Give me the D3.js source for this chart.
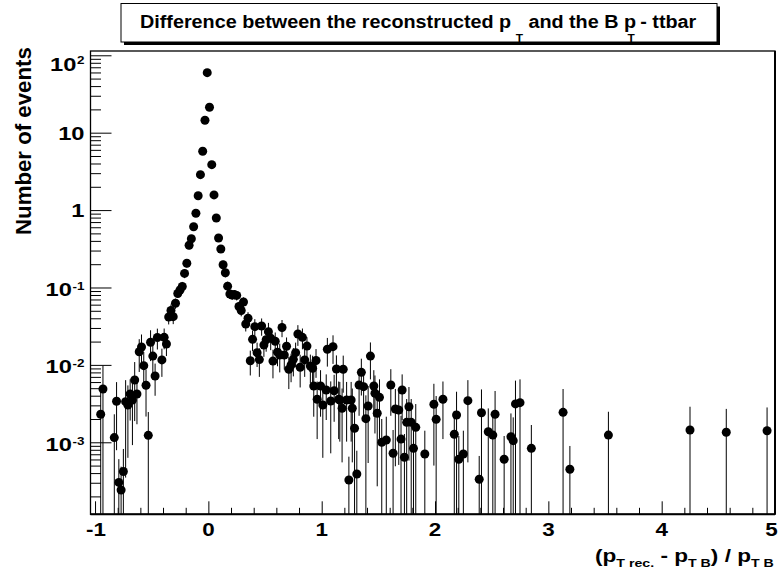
<!DOCTYPE html>
<html><head><meta charset="utf-8">
<script src="https://cdn.jsdelivr.net/npm/d3@7"></script>
<style>
body{margin:0;background:#fff}
text{font-family:"Liberation Sans",Arial,sans-serif;font-weight:bold;white-space:pre;fill:#000}
</style>
</head><body>
<svg id="c" width="779" height="571"></svg>
<script>
// ---- data ----
const binCenters = [
-0.95,-0.93,-0.83,-0.81,-0.79,-0.77,-0.75,-0.73,-0.71,-0.69,-0.67,-0.65,-0.63,-0.61,-0.59,-0.57,-0.55,-0.53,-0.51,-0.49,
-0.47,-0.45,-0.41,-0.39,-0.37,-0.35,-0.33,-0.31,-0.29,-0.27,-0.25,-0.23,-0.21,-0.19,-0.17,-0.15,-0.13,-0.11,-0.09,-0.07,
-0.05,-0.03,-0.01,0.01,0.03,0.05,0.07,0.09,0.11,0.13,0.15,0.17,0.19,0.21,0.23,0.25,0.27,0.29,0.31,0.33,
0.35,0.37,0.39,0.41,0.43,0.45,0.47,0.49,0.51,0.53,0.55,0.57,0.59,0.61,0.63,0.65,0.67,0.69,0.71,0.73,
0.75,0.77,0.79,0.81,0.83,0.85,0.87,0.90,0.92,0.93,0.95,0.96,0.99,1.01,1.04,1.05,1.08,1.10,1.11,1.13,
1.15,1.16,1.18,1.19,1.22,1.24,1.26,1.27,1.29,1.31,1.33,1.35,1.37,1.39,1.41,1.43,1.46,1.47,1.49,1.51,
1.53,1.57,1.61,1.63,1.65,1.68,1.70,1.71,1.73,1.75,1.77,1.79,1.81,1.83,1.91,1.99,2.01,2.07,2.17,2.19,
2.21,2.25,2.29,2.39,2.41,2.47,2.51,2.53,2.61,2.67,2.69,2.71,2.75,2.85,3.13,3.19,3.53,4.25,4.57,4.93];
const binValues = [
2.30e-3,4.88e-3,1.15e-3,3.39e-3,3.03e-4,2.42e-4,4.20e-4,3.35e-3,3.03e-3,4.21e-3,3.52e-3,6.38e-3,4.21e-3,1.48e-2,1.70e-2,9.77e-3,5.45e-3,1.23e-3,1.96e-2,1.30e-2,
7.19e-3,2.26e-2,1.16e-2,2.27e-2,1.86e-2,4.16e-2,5.04e-2,4.20e-2,6.25e-2,8.36e-2,9.29e-2,0.103,0.152,0.206,0.351,0.427,0.61,0.91,1.53,2.87,
5.75,14.5,59.6,21.3,3.86,1.57,0.79,0.436,0.314,0.197,0.155,0.104,8.24e-2,8.00e-2,8.10e-2,7.90e-2,5.69e-2,5.04e-2,6.50e-2,3.38e-2,
4.00e-2,1.13e-2,2.14e-2,3.12e-2,1.44e-2,1.17e-2,3.18e-2,1.81e-2,2.12e-2,2.69e-2,2.21e-2,1.12e-2,2.02e-2,1.46e-2,1.34e-2,3.04e-2,1.34e-2,1.74e-2,8.77e-3,9.97e-3,
1.18e-2,1.44e-2,2.51e-2,9.31e-3,2.27e-2,1.16e-2,1.75e-2,9.68e-3,9.04e-3,5.34e-3,1.14e-2,3.60e-3,5.34e-3,3.03e-3,4.74e-3,1.59e-2,3.42e-3,1.72e-2,4.64e-3,8.85e-3,
3.60e-3,3.52e-3,2.75e-3,8.77e-3,3.52e-3,3.26e-4,3.52e-3,2.75e-3,1.52e-3,3.89e-4,5.50e-3,8.02e-3,5.23e-3,2.02e-3,2.94e-3,1.30e-2,5.34e-3,4.30e-3,2.37e-3,3.81e-3,
1.00e-3,1.07e-3,5.50e-3,7.21e-4,2.69e-3,2.61e-3,1.10e-3,4.74e-3,6.40e-4,1.81e-3,2.88e-3,1.81e-3,8.36e-4,1.56e-3,7.06e-4,3.10e-3,1.98e-3,3.60e-3,1.27e-3,2.25e-3,
6.03e-4,7.06e-4,3.45e-3,3.33e-4,2.41e-3,1.37e-3,1.24e-3,2.30e-3,6.03e-4,1.18e-3,1.05e-3,3.13e-3,3.25e-3,8.36e-4,2.44e-3,4.48e-4,1.24e-3,1.44e-3,1.35e-3,1.41e-3];
const binErrors = [
2.30e-3,4.88e-3,1.15e-3,2.6e-3,3.03e-4,2.42e-4,4.0e-4,3.0e-3,2.4e-3,2.3e-3,2.6e-3,4.5e-3,2.5e-3,6.7e-3,7.7e-3,4.9e-3,3.3e-3,1.23e-3,8.4e-3,5.2e-3,
3.2e-3,6.8e-3,4.6e-3,6.8e-3,5.6e-3,8.3e-3,1.0e-2,8.4e-3,9.4e-3,1.0e-2,1.1e-2,0.015,0.02,0.025,0.04,0.045,0.06,0.08,0.12,0.2,
0.35,0.7,1.6,0.9,0.25,0.12,0.07,0.045,0.035,0.025,0.02,0.015,1.1e-2,1.1e-2,1.1e-2,1.1e-2,8.5e-3,8e-3,9.5e-3,6.8e-3,
8e-3,4e-3,6.4e-3,7.8e-3,5e-3,4.7e-3,8e-3,5.4e-3,6.4e-3,8e-3,6.6e-3,4.5e-3,6e-3,5e-3,5.4e-3,7.6e-3,4.7e-3,5.2e-3,3.9e-3,4e-3,
4.7e-3,5e-3,7.5e-3,4.2e-3,6.8e-3,4.6e-3,5.3e-3,3.9e-3,4.1e-3,3.2e-3,4.6e-3,2.5e-3,3.2e-3,2.4e-3,2.8e-3,6.4e-3,2.7e-3,6.9e-3,2.8e-3,4.4e-3,
2.5e-3,2.5e-3,2.2e-3,4.4e-3,2.5e-3,3.26e-4,2.5e-3,2.2e-3,1.52e-3,3.89e-4,3.3e-3,4e-3,3.1e-3,2.02e-3,2.4e-3,6.5e-3,3.2e-3,3e-3,2.1e-3,2.7e-3,
1.00e-3,1.07e-3,3.3e-3,7.21e-4,2.2e-3,2.1e-3,1.10e-3,2.8e-3,6.40e-4,1.81e-3,2.3e-3,1.81e-3,8.36e-4,1.56e-3,7.06e-4,2.6e-3,1.98e-3,2.5e-3,1.27e-3,2.25e-3,
6.03e-4,7.06e-4,2.9e-3,3.33e-4,2.41e-3,1.37e-3,1.24e-3,2.30e-3,6.03e-4,1.18e-3,1.05e-3,3.13e-3,3.25e-3,8.36e-4,2.44e-3,4.48e-4,1.24e-3,1.44e-3,1.35e-3,1.41e-3];
const xMajorTicks = [-1,0,1,2,3,4,5];
const xTickLabels = ["-1","0","1","2","3","4","5"];
const yMajorTicks = [100,10,1,0.1,0.01,0.001];
const yTickBase = ["10","10","1","10","10","10"];
const yTickExp  = ["2","","","-1","-2","-3"];
const titleParts = ["Difference between the reconstructed p","T"," and the B p","T"," - ttbar"];
const xTitleParts = ["(p","T rec."," - p","T B",") / p","T B"];
const yTitle = "Number of events";

// ---- layout ----
const svg = d3.select("#c");
const L = 90.5, R = 775, T = 51, B = 514.3;
const x = d3.scaleLinear().domain([-1.04, 5.0]).range([L, R]);
const y = d3.scaleLog().domain([1.174e-4, 113.6]).range([B, T]);

svg.append("rect").attr("width",779).attr("height",571).attr("fill","#fff");

// title box with shadow
svg.append("rect").attr("x",124).attr("y",6.5).attr("width",596).attr("height",38.5).attr("fill","#000");
svg.append("rect").attr("x",121).attr("y",3.5).attr("width",596).attr("height",38.5).attr("fill","#fff").attr("stroke","#000").attr("stroke-width",1);
const tt = svg.append("text").attr("font-size",17.5);
titleParts.forEach((p,i)=>{
  const sub = i%2===1;
  const ts = tt.append("tspan").text(p);
  if(sub){ ts.attr("font-size",10.5).attr("dy",15).attr("dx", i===1?4:-7.5); }
  else if(i>0){ ts.attr("dy",-15); }
});
{
  const w = tt.node().getBBox().width;
  tt.attr("transform",`translate(140,27.5) scale(${557/w},1)`);
}

// frame clip
const defs = svg.append("defs");
defs.append("clipPath").attr("id","fr").append("rect").attr("x",L).attr("y",T).attr("width",R-L).attr("height",B-T);

// axes ticks (inside the frame)
const xMinor = d3.range(-1.0, 5.0001, 0.2).map(v=>+v.toFixed(2)).filter(v=>Math.abs(v-Math.round(v))>1e-6);
const gx = svg.append("g").attr("transform",`translate(0,${B})`);
gx.call(d3.axisBottom(x).tickValues(xMajorTicks).tickSize(-13).tickFormat(""));
const gx2 = svg.append("g").attr("transform",`translate(0,${B})`);
gx2.call(d3.axisBottom(x).tickValues(xMinor).tickSize(-6.5).tickFormat(""));
const yMinor = [];
for(let e=-4;e<=2;e++) for(let m=2;m<=9;m++){ const v=m*Math.pow(10,e); if(v>1.174e-4 && v<113.6) yMinor.push(v); }
const gy = svg.append("g").attr("transform",`translate(${L},0)`);
gy.call(d3.axisLeft(y).tickValues(yMajorTicks).tickSize(-21).tickFormat(""));
const gy2 = svg.append("g").attr("transform",`translate(${L},0)`);
gy2.call(d3.axisLeft(y).tickValues(yMinor).tickSize(-10.5).tickFormat(""));
svg.selectAll(".domain").remove();
svg.selectAll(".tick line").attr("stroke","#000").attr("stroke-width",1);

svg.append("rect").attr("x",L).attr("y",T).attr("width",R-L).attr("height",B-T)
  .attr("fill","none").attr("stroke","#000").attr("stroke-width",1.3);
svg.append("line").attr("x1",L).attr("x2",R).attr("y1",B).attr("y2",B).attr("stroke","#000").attr("stroke-width",2);
svg.append("line").attr("x1",R).attr("x2",R).attr("y1",T).attr("y2",B).attr("stroke","#000").attr("stroke-width",2);

// x tick labels
xMajorTicks.forEach((v,i)=>{
  const shift = i===0 ? 1 : (i===xMajorTicks.length-1 ? -3.5 : 0);
  svg.append("text").attr("font-size",17.5).attr("text-anchor","middle")
    .attr("transform",`translate(${x(v)+shift},535.7) scale(1.28,1)`).text(xTickLabels[i]);
});
// y tick labels
yMajorTicks.forEach((v,i)=>{
  const hasExp = yTickExp[i] !== "";
  let cy = y(v) + (hasExp ? 2 : 0.3);
  cy = Math.max(cy, T + 13);
  const t = svg.append("text").attr("font-size",18.5).attr("text-anchor","end")
    .attr("transform",`translate(84.5,${cy+6.6}) scale(1.28,1)`);
  t.append("tspan").text(yTickBase[i]);
  if(hasExp) t.append("tspan").attr("font-size",10.5).attr("dy",-6.2).attr("dx",0.5).text(yTickExp[i]);
});

// y title
{
  const t = svg.append("text").attr("font-size",22).text(yTitle);
  const w = t.node().getBBox().width;
  t.attr("transform",`translate(30.7,235) rotate(-90) scale(${188/w},1)`);
}
// x title
{
  const t = svg.append("text").attr("font-size",17.5);
  xTitleParts.forEach((p,i)=>{
    const sub = i%2===1;
    const ts = t.append("tspan").text(p);
    if(sub) ts.attr("font-size",11).attr("dy",5.3);
    else if(i>0) ts.attr("dy",-5.3);
  });
  const w = t.node().getBBox().width;
  t.attr("transform",`translate(595,562) scale(${179/w},1)`);
}

// data: error bars + markers
const pts = binCenters.map((c,i)=>({c, v:binValues[i], e:binErrors[i]}));
const gd = svg.append("g").attr("clip-path","url(#fr)");
const ymin = y.domain()[0];
gd.selectAll("line.err").data(pts).join("line").attr("class","err")
  .attr("x1",d=>x(d.c)).attr("x2",d=>x(d.c))
  .attr("y1",d=>y(d.v+d.e))
  .attr("y2",d=>y(Math.max(d.v-d.e, ymin)))
  .attr("stroke","#000").attr("stroke-width",1);
gd.selectAll("circle").data(pts).join("circle")
  .attr("cx",d=>x(d.c)).attr("cy",d=>y(d.v)).attr("r",4.5).attr("fill","#000");
</script>
</body></html>
